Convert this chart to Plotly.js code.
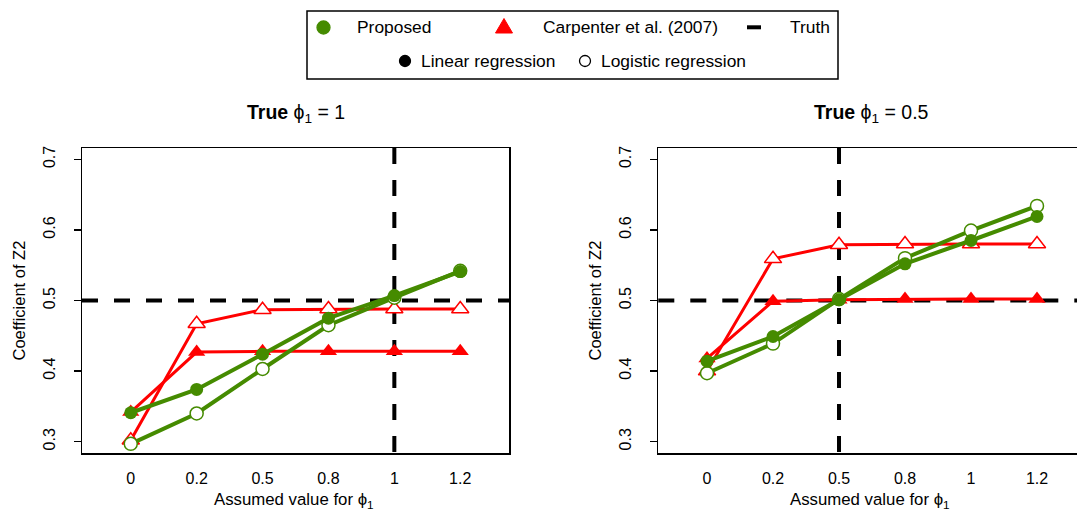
<!DOCTYPE html>
<html><head><meta charset="utf-8">
<script src="https://cdn.plot.ly/plotly-3.0.1.min.js"></script>
<style>html,body{margin:0;padding:0;background:#fff}#chart{width:1077px;height:512px}</style>
</head><body><div id="chart"></div>
<script>
// ---- data ----
const assumedPhi = ["0", "0.2", "0.5", "0.8", "1", "1.2"];
const truePhiLeft = "1";
const truePhiRight = "0.5";
const truthCoef = 0.5;
const yTickVals = [0.3, 0.4, 0.5, 0.6, 0.7];
const yTickText = ["0.3", "0.4", "0.5", "0.6", "0.7"];
const panelTitles = ["True", "True"];
const panelTrueValues = ["1", "0.5"];

// Left panel: True phi1 = 1
const leftProposedLinear    = [0.341, 0.374, 0.424, 0.475, 0.507, 0.541];
const leftProposedLogistic  = [0.297, 0.340, 0.403, 0.465, 0.504, 0.542];
const leftCarpenterLinear   = [0.342, 0.427, 0.428, 0.428, 0.428, 0.428];
const leftCarpenterLogistic = [0.302, 0.467, 0.487, 0.488, 0.488, 0.488];
// Right panel: True phi1 = 0.5
const rightProposedLinear    = [0.414, 0.449, 0.501, 0.552, 0.585, 0.619];
const rightProposedLogistic  = [0.397, 0.439, 0.502, 0.560, 0.599, 0.634];
const rightCarpenterLinear   = [0.418, 0.499, 0.501, 0.502, 0.502, 0.502];
const rightCarpenterLogistic = [0.400, 0.559, 0.579, 0.580, 0.580, 0.580];

const legendLabels = ["Proposed", "Carpenter et al. (2007)", "Truth", "Linear regression", "Logistic regression"];

// ---- style ----
const GREEN = "#458B00", RED = "#FF0000";
const FONT = "Liberation Sans, Arial, Helvetica, sans-serif";
const W = 1077, H = 512, ML = 82, MR = 0, MT = 148, MB = 59;
const PW = W - ML - MR, PH = H - MT - MB;
const px = v => (v - ML) / PW;
const py = v => (H - MB - v) / PH;

function series(x, y, xa, ya, color, filled, sym, lw, msize) {
  return {
    type: "scatter", mode: "lines+markers", x: x, y: y, xaxis: xa, yaxis: ya,
    showlegend: false, hoverinfo: "skip", cliponaxis: false,
    line: {color: color, width: lw},
    marker: {symbol: sym, size: msize, color: filled ? color : "#ffffff",
             line: {color: color, width: filled ? 0 : 1.5}}
  };
}

const traces = [
  series(assumedPhi, leftCarpenterLogistic, "x", "y", RED, false, "triangle-up", 3, 15),
  series(assumedPhi, leftCarpenterLinear, "x", "y", RED, true, "triangle-up", 3, 15),
  series(assumedPhi, leftProposedLogistic, "x", "y", GREEN, false, "circle", 4, 13),
  series(assumedPhi, leftProposedLinear, "x", "y", GREEN, true, "circle", 4, 13),
  series(assumedPhi, rightCarpenterLogistic, "x2", "y2", RED, false, "triangle-up", 3, 15),
  series(assumedPhi, rightCarpenterLinear, "x2", "y2", RED, true, "triangle-up", 3, 15),
  series(assumedPhi, rightProposedLogistic, "x2", "y2", GREEN, false, "circle", 4, 13),
  series(assumedPhi, rightProposedLinear, "x2", "y2", GREEN, true, "circle", 4, 13)
];

const leftIdx = assumedPhi.indexOf(truePhiLeft);
const rightIdx = assumedPhi.indexOf(truePhiRight);
const dash = {color: "#000", width: 4, dash: "16px,16px"};
const shapes = [
  {type: "line", layer: "below", xref: "x domain", yref: "y", x0: 0, x1: 1, y0: truthCoef, y1: truthCoef, line: dash},
  {type: "line", layer: "below", xref: "x", yref: "y domain", x0: leftIdx, x1: leftIdx, y0: 1, y1: 0, line: dash},
  {type: "line", layer: "below", xref: "x2 domain", yref: "y2", x0: 0, x1: 1, y0: truthCoef, y1: truthCoef, line: dash},
  {type: "line", layer: "below", xref: "x2", yref: "y2 domain", x0: rightIdx, x1: rightIdx, y0: 1, y1: 0, line: dash},
  // legend box
  {type: "rect", xref: "paper", yref: "paper", x0: px(307), x1: px(838), y0: py(11), y1: py(79),
   line: {color: "#000", width: 1.5}, fillcolor: "rgba(0,0,0,0)"}
];
function circ(cx, cy, r, fill, stroke) {
  return {type: "circle", xref: "paper", yref: "paper", x0: px(cx - r), x1: px(cx + r), y0: py(cy + r), y1: py(cy - r),
          fillcolor: fill, line: {color: stroke, width: 1.3}};
}
shapes.push(circ(323.5, 27.5, 6.5, GREEN, GREEN));
shapes.push({type: "path", xref: "paper", yref: "paper",
  path: `M ${px(495.5)},${py(33)} L ${px(512.5)},${py(33)} L ${px(504)},${py(18.5)} Z`,
  fillcolor: RED, line: {color: RED, width: 1}});
shapes.push({type: "line", xref: "paper", yref: "paper", x0: px(747), x1: px(761), y0: py(27.3), y1: py(27.3),
  line: {color: "#000", width: 4}});
shapes.push(circ(405, 61, 5.5, "#000", "#000"));
shapes.push(circ(585, 61, 5.5, "#fff", "#000"));

const ann = [];
function txt(x, y, text, size, opts) {
  return Object.assign({xref: "paper", yref: "paper", x: x, y: y, text: text, showarrow: false,
    font: {family: FONT, size: size, color: "#000"}}, opts || {});
}
const LF = 17.4;
ann.push(txt(px(355), py(27), legendLabels[0], LF, {xanchor: "left", yanchor: "middle"}));
ann.push(txt(px(541), py(27), legendLabels[1], LF, {xanchor: "left", yanchor: "middle"}));
ann.push(txt(px(832), py(27), legendLabels[2], LF, {xanchor: "right", yanchor: "middle"}));
ann.push(txt(px(419), py(61), legendLabels[3], LF, {xanchor: "left", yanchor: "middle"}));
ann.push(txt(px(599), py(61), legendLabels[4], LF, {xanchor: "left", yanchor: "middle"}));

// panel titles
const leftCenter = 295.5, rightCenter = 871.8;
ann.push(txt(px(leftCenter), py(113), `<b>${panelTitles[0]}</b> ϕ<sub>1</sub> = ${panelTrueValues[0]}`, 19.5, {xanchor: "center", yanchor: "middle"}));
ann.push(txt(px(rightCenter), py(113), `<b>${panelTitles[1]}</b> ϕ<sub>1</sub> = ${panelTrueValues[1]}`, 19.5, {xanchor: "center", yanchor: "middle"}));
// axis titles
ann.push(txt(px(leftCenter - 2), py(500), "Assumed value for ϕ<sub>1</sub>", 16.8, {xanchor: "center", yanchor: "middle"}));
ann.push(txt(px(rightCenter - 2), py(500), "Assumed value for ϕ<sub>1</sub>", 16.8, {xanchor: "center", yanchor: "middle"}));
ann.push(txt(px(18), 0.5, "Coefficient of Z2", 16.5, {xanchor: "center", yanchor: "middle", textangle: -90}));
ann.push(txt(px(594), 0.5, "Coefficient of Z2", 16.5, {xanchor: "center", yanchor: "middle", textangle: -90}));

const xBase = {
  type: "category", categoryorder: "array", categoryarray: assumedPhi,
  showline: true, linecolor: "#000", linewidth: 1.5, mirror: true,
  ticks: "", showgrid: false, zeroline: false, ticklabelstandoff: 10,
  tickfont: {family: FONT, size: 16, color: "#000"}, fixedrange: true
};
const yBase = {
  range: [0.284, 0.716], tickmode: "array", tickvals: yTickVals, ticktext: yTickText,
  tickangle: -90, ticks: "outside", ticklen: 7, tickwidth: 1.5, tickcolor: "#000",
  showline: true, linecolor: "#000", linewidth: 1.5, showgrid: false, zeroline: false,
  ticklabelstandoff: 12, tickfont: {family: FONT, size: 16, color: "#000"}, fixedrange: true
};

const layout = {
  width: W, height: H, margin: {l: ML, r: MR, t: MT, b: MB},
  paper_bgcolor: "#fff", plot_bgcolor: "#fff", showlegend: false,
  font: {family: FONT, color: "#000"},
  xaxis: Object.assign({}, xBase, {domain: [0, 427 / PW], range: [-0.74, 5.74], anchor: "y"}),
  yaxis: Object.assign({}, yBase, {domain: [0, 1], anchor: "x", mirror: true}),
  xaxis2: Object.assign({}, xBase, {domain: [(658.3 - ML) / PW, 1], range: [-0.738, 5.606], anchor: "y2"}),
  yaxis2: Object.assign({}, yBase, {domain: [0, 1], anchor: "x2", mirror: false}),
  shapes: shapes, annotations: ann
};

Plotly.newPlot("chart", traces, layout, {displayModeBar: false, staticPlot: true});
</script></body></html>
